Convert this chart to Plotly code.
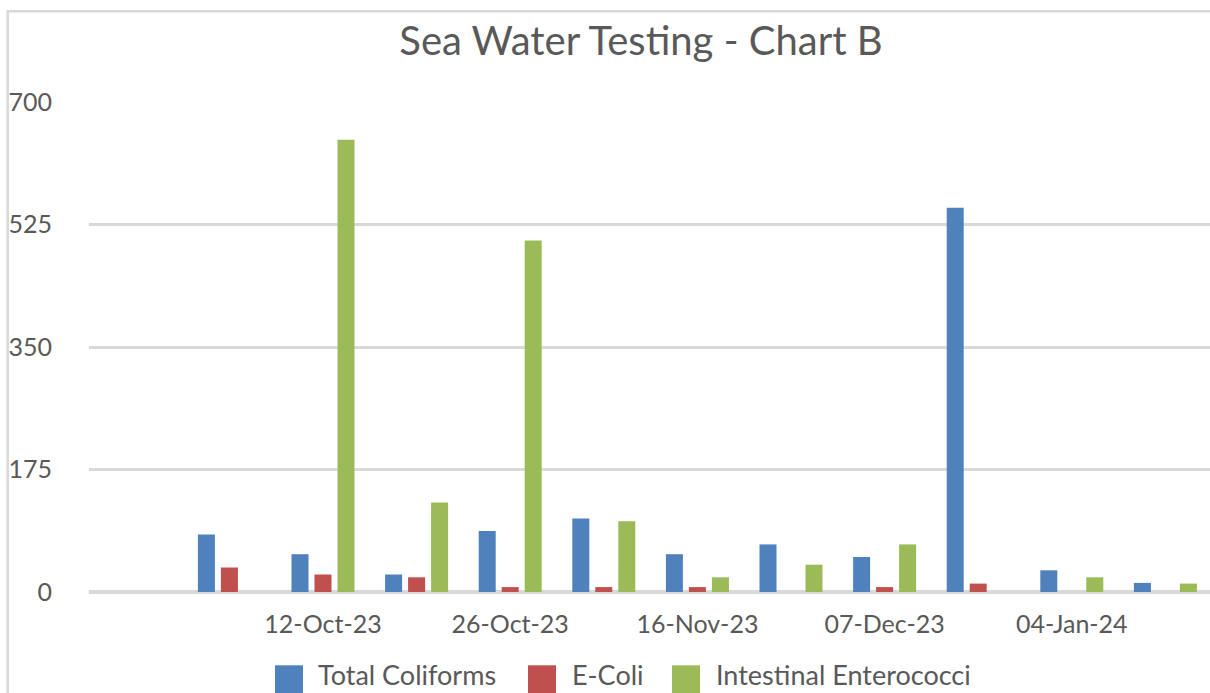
import plotly.graph_objects as go

# ---- data ----
series_names = ["Total Coliforms", "E-Coli", "Intestinal Enterococci"]
total_coliforms = [None, 82, 54, 25, 87, 105, 54, 68, 50, 549, 31, 13]
e_coli = [None, 35, 25, 21, 7, 7, 7, None, 7, 12, None, None]
enterococci = [None, None, 646, 128, 502, 101, 21, 39, 68, None, 21, 12]
tick_positions = [2, 4, 6, 8, 10]
tick_labels = ["12-Oct-23", "26-Oct-23", "16-Nov-23", "07-Dec-23", "04-Jan-24"]
y_ticks = [0, 175, 350, 525, 700]

colors = ["#4F81BD", "#C0504D", "#9BBB59"]
FONT = "Lato"
TXT = "#595959"
GRID = "#D9D9D9"

W, H = 1210, 693
L, R, T, B = 89, 0, 101.7, 101.3
cat_px = 93.6
x_positions = list(range(len(total_coliforms)))

def px_x(p):
    return (p - L) / (W - L - R)

def px_y(p):
    return (H - B - p) / (H - T - B)

fig = go.Figure()
for name, vals, col in zip(series_names, [total_coliforms, e_coli, enterococci], colors):
    fig.add_trace(go.Bar(x=x_positions, y=vals, name=name, marker_color=col,
                         marker_line_width=0, showlegend=False))

x_max = -0.5 + (W - L - R) / cat_px

fig.update_layout(
    width=W, height=H,
    margin=dict(l=L, r=R, t=T, b=B, pad=0),
    paper_bgcolor="white", plot_bgcolor="white",
    barmode="group", bargap=0.263, bargroupgap=0.26,
    font=dict(family=FONT, color=TXT, size=25),
    title=dict(text="Sea Water Testing - Chart B", x=641 / W, xanchor="center",
               xref="container", y=1 - 41 / H, yanchor="middle", yref="container",
               font=dict(family=FONT, size=40, color=TXT)),
    xaxis=dict(range=[-0.5, x_max], tickmode="array", tickvals=tick_positions,
               ticktext=tick_labels, showgrid=False, zeroline=False,
               showline=False, ticks="", ticklabelstandoff=15,
               tickfont=dict(family=FONT, size=25, color=TXT)),
    yaxis=dict(range=[0, 700], tickmode="array", tickvals=y_ticks,
               showgrid=True, gridcolor=GRID, gridwidth=3,
               zeroline=True, zerolinecolor=GRID, zerolinewidth=3.5,
               showline=False, ticks="", ticklabelstandoff=36,
               tickfont=dict(family=FONT, size=25, color=TXT)),
)

shapes = []
# chart-area border (cropped at right and bottom)
shapes.append(dict(type="rect", xref="paper", yref="paper",
                   x0=px_x(7.7), x1=px_x(W + 20), y0=px_y(11), y1=px_y(H + 20),
                   line=dict(color=GRID, width=2.5), fillcolor="rgba(0,0,0,0)", layer="below"))

# custom legend (large swatches as in the reference)
legend_sq_left = [275, 528, 672]
legend_txt_left = [317, 571, 715]
annotations = []
for name, col, sx, tx in zip(series_names, colors, legend_sq_left, legend_txt_left):
    shapes.append(dict(type="rect", xref="paper", yref="paper",
                       x0=px_x(sx), x1=px_x(sx + 28), y0=px_y(665), y1=px_y(693),
                       fillcolor=col, line=dict(width=0)))
    annotations.append(dict(text=name, xref="paper", yref="paper", x=px_x(tx), y=px_y(692),
                            xanchor="left", yanchor="bottom", showarrow=False,
                            borderpad=0,
                            font=dict(family=FONT, size=27, color=TXT)))

fig.update_layout(shapes=shapes, annotations=annotations)
fig.write_html("out.html", config={"displayModeBar": False},
               post_script="document.body.style.margin='0';document.body.style.overflow='hidden';")
